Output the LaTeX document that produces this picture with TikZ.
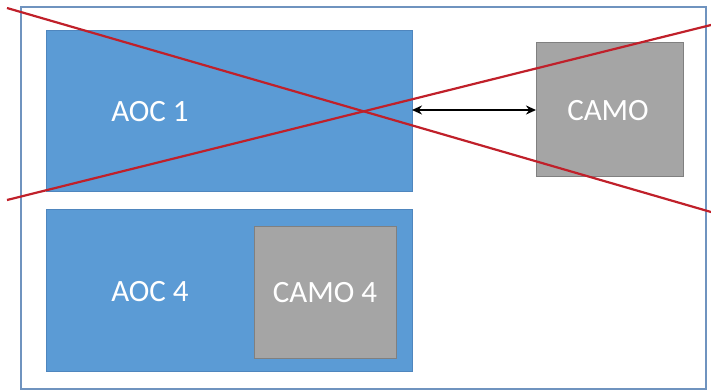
\documentclass[tikz,border=0pt]{standalone}
\usepackage{fontspec}
\setmainfont{Carlito}
\usetikzlibrary{arrows.meta}
\definecolor{aocblue}{HTML}{5B9BD5}
\definecolor{aocedge}{HTML}{4F86BE}
\definecolor{camogray}{HTML}{A5A5A5}
\definecolor{camoedge}{HTML}{808080}
\definecolor{frameedge}{HTML}{6F93BF}
\definecolor{crossred}{HTML}{C0202A}
\tikzset{
  aocbox/.style={draw=aocedge, line width=0.8pt, fill=aocblue},
  camobox/.style={draw=camoedge, line width=0.8pt, fill=camogray},
  boxtext/.style={text=white, font=\fontsize{31}{37}\selectfont, inner sep=0pt},
  crossline/.style={draw=crossred, line width=2.2pt},
  link/.style={draw=black, line width=2pt, {Stealth[length=10pt,width=9pt]}-{Stealth[length=10pt,width=9pt]}}
}
\begin{document}
\begin{tikzpicture}[x=1pt,y=-1pt]
\useasboundingbox (0,0) rectangle (711,391);
\draw[frameedge, line width=1.2pt] (21,7) rectangle (706,389);
% AOC 1
\draw[aocbox] (46,30) rectangle (412,191);
\coordinate (aoc1e) at (412,110);
\node[boxtext] (aoc1) at (150,112) {AOC 1};
% CAMO
\draw[camobox] (536,42) rectangle (683,176);
\coordinate (camow) at (536,110);
\node[boxtext] (camo) at (608,111) {CAMO};
% AOC 4
\draw[aocbox] (46,209) rectangle (412,371);
\node[boxtext] (aoc4) at (150,292) {AOC 4};
% CAMO 4
\draw[camobox] (254,226) rectangle (396,358);
\node[boxtext] (camo4) at (325,293) {CAMO 4};
% arrow
\draw[link] (aoc1e) -- (camow);
% cross
\coordinate (c1a) at (7,8);
\coordinate (c1b) at (711,212);
\coordinate (c2a) at (7,200);
\coordinate (c2b) at (711,25);
\draw[crossline] (c1a) -- (c1b);
\draw[crossline] (c2a) -- (c2b);
\end{tikzpicture}
\end{document}
